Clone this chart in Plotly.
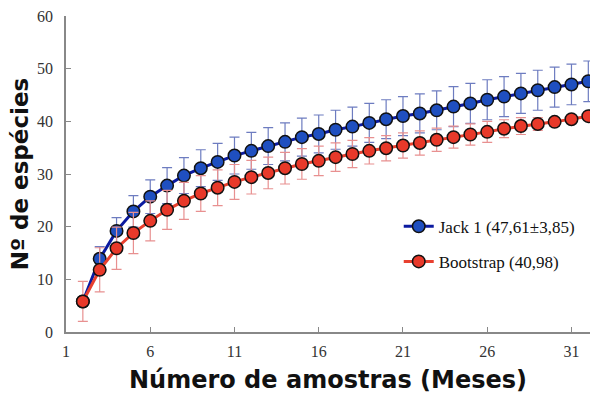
import plotly.graph_objects as go

samples = list(range(2, 33))
jack1 = [5.8, 13.9, 19.2, 22.9, 25.7, 27.8, 29.7, 31.1, 32.3, 33.5, 34.4, 35.3, 36.1, 37.0,
         37.6, 38.4, 39.0, 39.7, 40.4, 41.0, 41.5, 42.1, 42.8, 43.4, 44.1, 44.7, 45.3, 45.9,
         46.5, 47.0, 47.61]
jack1_err = [0, 2.3, 2.5, 3.0, 3.2, 3.4, 3.4, 3.5, 3.5, 3.5, 3.5, 3.5, 3.6, 3.6, 3.6, 3.7,
             3.7, 3.7, 3.7, 3.7, 3.7, 3.7, 3.8, 3.8, 3.8, 3.8, 3.8, 3.8, 3.8, 3.85, 3.85]
boot = [5.8, 11.8, 15.9, 18.8, 21.1, 23.2, 24.9, 26.3, 27.4, 28.5, 29.4, 30.2, 31.1, 31.9,
        32.5, 33.2, 33.8, 34.4, 34.9, 35.4, 35.9, 36.5, 37.0, 37.5, 38.0, 38.6, 39.1, 39.5,
        39.9, 40.4, 40.98]
boot_err = [3.8, 4.2, 4.0, 3.9, 3.8, 3.7, 3.5, 3.4, 3.4, 3.3, 3.2, 3.0, 3.0, 2.9, 2.8, 2.7,
            2.6, 2.5, 2.4, 2.4, 2.3, 2.2, 2.1, 2.0, 2.0, 1.7, 1.6, 1.2, 0.8, 0.6, 0.4]
x_ticks = [1, 6, 11, 16, 21, 26, 31]
y_ticks = [0, 10, 20, 30, 40, 50, 60]

fig = go.Figure()
fig.add_trace(go.Scatter(
    x=samples, y=jack1, mode="lines+markers", name="Jack 1 (47,61±3,85)",
    legendgroup="a", legendrank=1,
    line=dict(color="#0b1aa0", width=3),
    marker=dict(size=12.5, color="#1f4fc0", line=dict(color="#111", width=1.5)),
    error_y=dict(type="data", array=jack1_err, color="#6d7cc0", thickness=1.2, width=5),
))
fig.add_trace(go.Scatter(
    x=samples, y=boot, mode="lines+markers", name="Bootstrap (40,98)",
    legendgroup="b", legendrank=2,
    line=dict(color="#e8402f", width=3),
    marker=dict(size=12.5, color="#e8392a", line=dict(color="#111", width=1.5)),
    error_y=dict(type="data", array=boot_err, color="#e89090", thickness=1.2, width=5),
))

tickfont = dict(family="Liberation Serif", size=16, color="#333")
fig.update_layout(
    width=590, height=394,
    margin=dict(l=66, r=0, t=16, b=62),
    paper_bgcolor="white", plot_bgcolor="white",
    showlegend=True,
    legend=dict(x=0.635, y=0.39, xanchor="left", yanchor="top",
                font=dict(family="Liberation Serif", size=17, color="#111"),
                traceorder="grouped", tracegroupgap=10,
                bgcolor="rgba(0,0,0,0)", itemwidth=30),
    xaxis=dict(range=[1, 32.1], tickvals=x_ticks, ticks="inside", ticklen=5,
               tickcolor="#888", showline=True, linecolor="#888", linewidth=1.5,
               showgrid=False, zeroline=False, tickfont=tickfont, automargin=False,
               ticklabelstandoff=4,
               title=dict(text="Número de amostras (Meses)", standoff=13,
                          font=dict(family="DejaVu Sans", size=24, color="#111", weight="bold"))),
    yaxis=dict(range=[0, 60], tickvals=y_ticks, ticks="inside", ticklen=5,
               tickcolor="#888", showline=True, linecolor="#888", linewidth=1.5,
               showgrid=False, zeroline=False, tickfont=tickfont, automargin=False,
               ticklabelstandoff=8,
               title=dict(text="Nº de espécies", standoff=2,
                          font=dict(family="DejaVu Sans", size=23, color="#111", weight="bold"))),
)
fig.write_html("out.html", config={"displayModeBar": False},
               post_script="document.body.style.margin='0';document.body.style.overflow='hidden';")
